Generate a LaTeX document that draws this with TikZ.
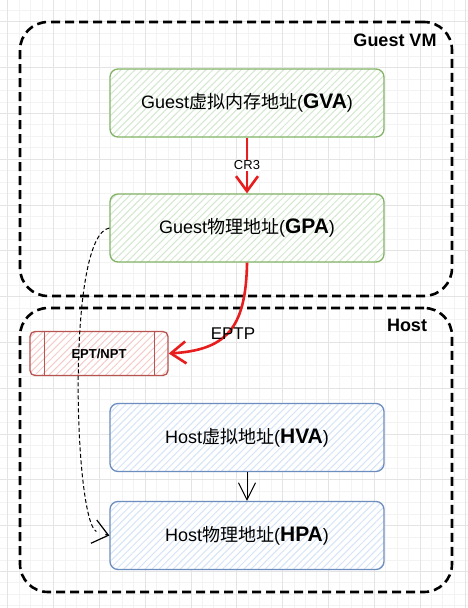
\documentclass[tikz,border=0pt]{standalone}
\usepackage{fontspec}
\setmainfont{Liberation Sans}
\newfontfamily\cjk{Noto Sans CJK SC}
\usetikzlibrary{arrows.meta,patterns.meta}

\definecolor{greenline}{HTML}{82B366}
\definecolor{greenhatch}{HTML}{D3E8CF}
\definecolor{blueline}{HTML}{6C8EBF}
\definecolor{bluehatch}{HTML}{D6E4F7}
\definecolor{redline}{HTML}{B85450}
\definecolor{redhatch}{HTML}{F4CCCA}
\definecolor{arrowred}{HTML}{E81E1E}
\definecolor{gridminor}{HTML}{F3F3F3}
\definecolor{gridmajor}{HTML}{E4E4E4}

\newcommand{\abbr}[1]{{\bfseries\fontsize{21}{21}\selectfont #1}}

\tikzset{
  vmgroup/.style={draw, rounded corners=28pt, line width=2.6pt,
    dash pattern=on 9pt off 5pt, minimum width=432pt, inner sep=0pt},
  grouptitle/.style={font=\bfseries\fontsize{18}{21}\selectfont},
  addr/.style={draw, rounded corners=8pt, line width=1.3pt,
    minimum width=274pt, minimum height=68pt, preaction={fill=white},
    pattern={Lines[angle=45,distance=5pt,line width=1pt]},
    font=\fontsize{18}{21}\selectfont},
  guestaddr/.style={addr, draw=greenline, pattern color=greenhatch},
  hostaddr/.style={addr, draw=blueline, pattern color=bluehatch},
  tablebox/.style={draw=redline, rounded corners=5pt, line width=1.3pt,
    minimum width=138pt, minimum height=44pt, preaction={fill=white},
    pattern={Lines[angle=45,distance=5pt,line width=1pt]}, pattern color=redhatch,
    font=\bfseries\fontsize{13}{15}\selectfont},
  redarrow/.style={draw=arrowred, line width=2.6pt,
    -{Straight Barb[length=15pt,width=22pt]}},
  hostarrow/.style={draw, line width=1pt, -{Straight Barb[length=17pt,width=17pt]}},
  eptline/.style={draw, line width=1pt, dash pattern=on 4pt off 2.5pt},
  epttip/.style={draw, line width=1.2pt, -{Straight Barb[length=15pt,width=24pt]}}
}

\begin{document}
\begin{tikzpicture}[x=1pt,y=-1pt]
  \useasboundingbox (0,0) rectangle (468,608);
  \fill[white] (0,0) rectangle (468,608);
  % background grid
  \foreach \i in {0,...,40} {
    \draw[gridminor] ({7.5+11.45*\i},0) -- ({7.5+11.45*\i},608);
  }
  \foreach \i in {0,...,52} {
    \draw[gridminor] (0,{10.15+11.45*\i}) -- (468,{10.15+11.45*\i});
  }
  \foreach \i in {0,...,10} {
    \draw[gridmajor] ({7.5+45.8*\i},0) -- ({7.5+45.8*\i},608);
  }
  \foreach \i in {0,...,13} {
    \draw[gridmajor] (0,{21.6+45.8*\i}) -- (468,{21.6+45.8*\i});
  }

  % containers
  \node[vmgroup, minimum height=274pt] (guestvm) at (236,159) {};
  \node[vmgroup, minimum height=284pt] (host) at (236,450) {};
  \node[grouptitle] (guesttitle) at (395,40) {Guest VM};
  \node[grouptitle] (hosttitle) at (407,325) {Host};

  % address spaces
  \node[guestaddr] (gva) at (247,103) {Guest{\cjk 虚拟内存地址}(\abbr{GVA})};
  \node[guestaddr] (gpa) at (247,228) {Guest{\cjk 物理地址}(\abbr{GPA})};
  \node[hostaddr] (hva) at (247,437.5) {Host{\cjk 虚拟地址}(\abbr{HVA})};
  \node[hostaddr] (hpa) at (247,535.5) {Host{\cjk 物理地址}(\abbr{HPA})};
  \node[tablebox] (ept) at (99,353.5) {EPT/NPT};
  \draw[redline, line width=1.3pt] ([xshift=15pt]ept.north west) -- ([xshift=15pt]ept.south west);
  \draw[redline, line width=1.3pt] ([xshift=-14pt]ept.north east) -- ([xshift=-14pt]ept.south east);

  % translations
  \draw[redarrow] (gva.south) -- node[fill=white, inner sep=1pt,
    font=\fontsize{13}{15}\selectfont] (cr3) {CR3} (gpa.north);
  \draw[redarrow] (gpa.south) .. controls (246,330) and (225,350) .. (ept.east);
  \node[font=\fontsize{17}{20}\selectfont] (eptp) at (233,334) {EPTP};
  \draw[hostarrow] (hva.south) -- (hpa.north);
  \draw[eptline] (gpa.west) .. controls (66,235) and (74,520) .. ([xshift=-13pt,yshift=4pt]hpa.west);
  \draw[epttip] ([shift={(-4,-1)}]hpa.west) -- (hpa.west);
\end{tikzpicture}
\end{document}
